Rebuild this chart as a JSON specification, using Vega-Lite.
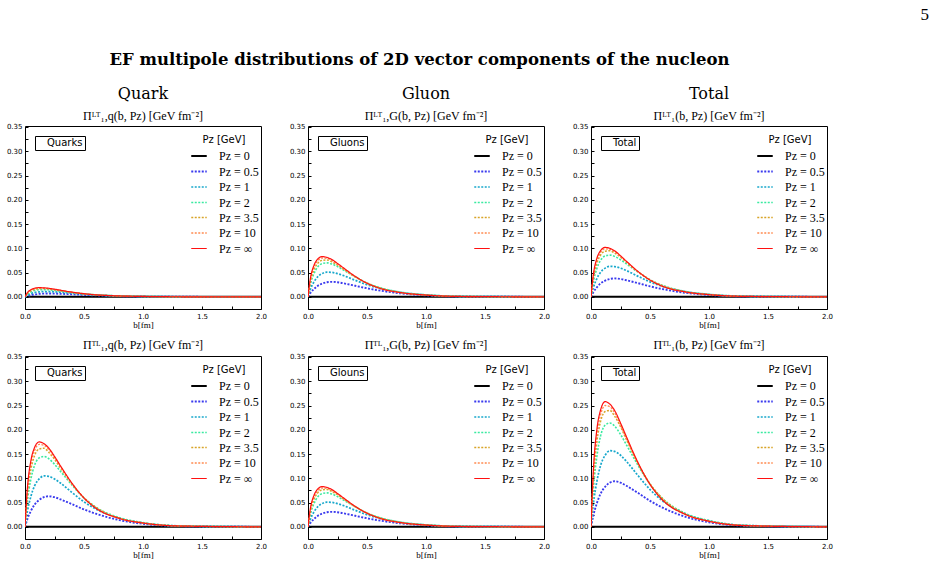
{
"$schema": "https://vega.github.io/schema/vega-lite/v6.json",
"background": "white",
"padding": 5,
"title": {"text": "5", "anchor": "end", "dx": 96, "font": "Liberation Serif", "fontSize": 17, "fontWeight": "normal", "offset": 28, "frame": "bounds"},
"datasets": {
"qLT": [
{"s":"0","b":0,"v":0},{"s":"0","b":2,"v":0},
{"s":"0.5","b":0,"v":0},{"s":"0.5","b":0.02,"v":0.0018},{"s":"0.5","b":0.05,"v":0.0036},{"s":"0.5","b":0.08,"v":0.005},{"s":"0.5","b":0.12,"v":0.0062},{"s":"0.5","b":0.16,"v":0.0068},{"s":"0.5","b":0.2,"v":0.007},{"s":"0.5","b":0.25,"v":0.0068},{"s":"0.5","b":0.3,"v":0.0063},{"s":"0.5","b":0.4,"v":0.0052},{"s":"0.5","b":0.5,"v":0.004},{"s":"0.5","b":0.6,"v":0.003},{"s":"0.5","b":0.8,"v":0.0015},{"s":"0.5","b":1,"v":0.0007},{"s":"0.5","b":1.3,"v":0.0002},{"s":"0.5","b":2,"v":0},
{"s":"1","b":0,"v":0},{"s":"1","b":0.02,"v":0.0033},{"s":"1","b":0.05,"v":0.0066},{"s":"1","b":0.08,"v":0.0088},{"s":"1","b":0.12,"v":0.0103},{"s":"1","b":0.16,"v":0.011},{"s":"1","b":0.2,"v":0.0109},{"s":"1","b":0.25,"v":0.0103},{"s":"1","b":0.3,"v":0.0095},{"s":"1","b":0.4,"v":0.0074},{"s":"1","b":0.5,"v":0.0054},{"s":"1","b":0.6,"v":0.0039},{"s":"1","b":0.8,"v":0.0019},{"s":"1","b":1,"v":0.0009},{"s":"1","b":1.3,"v":0.0002},{"s":"1","b":2,"v":0},
{"s":"2","b":0,"v":0},{"s":"2","b":0.02,"v":0.0054},{"s":"2","b":0.05,"v":0.0102},{"s":"2","b":0.08,"v":0.0131},{"s":"2","b":0.12,"v":0.0147},{"s":"2","b":0.16,"v":0.015},{"s":"2","b":0.2,"v":0.0146},{"s":"2","b":0.25,"v":0.0134},{"s":"2","b":0.3,"v":0.0119},{"s":"2","b":0.4,"v":0.0089},{"s":"2","b":0.5,"v":0.0062},{"s":"2","b":0.6,"v":0.0042},{"s":"2","b":0.8,"v":0.002},{"s":"2","b":1,"v":0.0009},{"s":"2","b":1.3,"v":0.0002},{"s":"2","b":2,"v":0},
{"s":"3.5","b":0,"v":0},{"s":"3.5","b":0.02,"v":0.0068},{"s":"3.5","b":0.05,"v":0.0124},{"s":"3.5","b":0.08,"v":0.0153},{"s":"3.5","b":0.12,"v":0.0168},{"s":"3.5","b":0.16,"v":0.017},{"s":"3.5","b":0.2,"v":0.0162},{"s":"3.5","b":0.25,"v":0.0146},{"s":"3.5","b":0.3,"v":0.0128},{"s":"3.5","b":0.4,"v":0.0092},{"s":"3.5","b":0.5,"v":0.0063},{"s":"3.5","b":0.6,"v":0.0043},{"s":"3.5","b":0.8,"v":0.0019},{"s":"3.5","b":1,"v":0.0009},{"s":"3.5","b":1.3,"v":0.0002},{"s":"3.5","b":2,"v":0},
{"s":"10","b":0,"v":0},{"s":"10","b":0.02,"v":0.0077},{"s":"10","b":0.05,"v":0.0137},{"s":"10","b":0.08,"v":0.0166},{"s":"10","b":0.12,"v":0.018},{"s":"10","b":0.16,"v":0.0178},{"s":"10","b":0.2,"v":0.0169},{"s":"10","b":0.25,"v":0.0151},{"s":"10","b":0.3,"v":0.0131},{"s":"10","b":0.4,"v":0.0094},{"s":"10","b":0.5,"v":0.0063},{"s":"10","b":0.6,"v":0.0041},{"s":"10","b":0.8,"v":0.0018},{"s":"10","b":1,"v":0.0008},{"s":"10","b":1.3,"v":0.0002},{"s":"10","b":2,"v":0},
{"s":"∞","b":0,"v":0},{"s":"∞","b":0.02,"v":0.0086},{"s":"∞","b":0.05,"v":0.0148},{"s":"∞","b":0.08,"v":0.0177},{"s":"∞","b":0.12,"v":0.019},{"s":"∞","b":0.16,"v":0.0186},{"s":"∞","b":0.2,"v":0.0177},{"s":"∞","b":0.25,"v":0.0158},{"s":"∞","b":0.3,"v":0.0137},{"s":"∞","b":0.4,"v":0.0097},{"s":"∞","b":0.5,"v":0.0065},{"s":"∞","b":0.6,"v":0.0042},{"s":"∞","b":0.8,"v":0.0019},{"s":"∞","b":1,"v":0.0009},{"s":"∞","b":1.3,"v":0.0002},{"s":"∞","b":2,"v":0}
],
"gLT": [
{"s":"0","b":0,"v":0},{"s":"0","b":2,"v":0},
{"s":"0.5","b":0,"v":0},{"s":"0.5","b":0.02,"v":0.0078},{"s":"0.5","b":0.05,"v":0.0161},{"s":"0.5","b":0.08,"v":0.0223},{"s":"0.5","b":0.12,"v":0.0273},{"s":"0.5","b":0.16,"v":0.0301},{"s":"0.5","b":0.2,"v":0.031},{"s":"0.5","b":0.25,"v":0.0301},{"s":"0.5","b":0.3,"v":0.0279},{"s":"0.5","b":0.4,"v":0.0229},{"s":"0.5","b":0.5,"v":0.0177},{"s":"0.5","b":0.6,"v":0.0133},{"s":"0.5","b":0.8,"v":0.0068},{"s":"0.5","b":1,"v":0.0031},{"s":"0.5","b":1.3,"v":0.0008},{"s":"0.5","b":2,"v":0},
{"s":"1","b":0,"v":0},{"s":"1","b":0.02,"v":0.0153},{"s":"1","b":0.05,"v":0.0306},{"s":"1","b":0.08,"v":0.0408},{"s":"1","b":0.12,"v":0.0479},{"s":"1","b":0.16,"v":0.051},{"s":"1","b":0.2,"v":0.0505},{"s":"1","b":0.25,"v":0.0479},{"s":"1","b":0.3,"v":0.0439},{"s":"1","b":0.4,"v":0.0342},{"s":"1","b":0.5,"v":0.025},{"s":"1","b":0.6,"v":0.0179},{"s":"1","b":0.8,"v":0.0087},{"s":"1","b":1,"v":0.0041},{"s":"1","b":1.3,"v":0.001},{"s":"1","b":2,"v":0},
{"s":"2","b":0,"v":0},{"s":"2","b":0.02,"v":0.0252},{"s":"2","b":0.05,"v":0.0476},{"s":"2","b":0.08,"v":0.0609},{"s":"2","b":0.12,"v":0.0686},{"s":"2","b":0.16,"v":0.07},{"s":"2","b":0.2,"v":0.0679},{"s":"2","b":0.25,"v":0.0623},{"s":"2","b":0.3,"v":0.0553},{"s":"2","b":0.4,"v":0.0413},{"s":"2","b":0.5,"v":0.0287},{"s":"2","b":0.6,"v":0.0196},{"s":"2","b":0.8,"v":0.0091},{"s":"2","b":1,"v":0.0042},{"s":"2","b":1.3,"v":0.001},{"s":"2","b":2,"v":0},
{"s":"3.5","b":0,"v":0},{"s":"3.5","b":0.02,"v":0.0304},{"s":"3.5","b":0.05,"v":0.0555},{"s":"3.5","b":0.08,"v":0.0684},{"s":"3.5","b":0.12,"v":0.0752},{"s":"3.5","b":0.16,"v":0.076},{"s":"3.5","b":0.2,"v":0.0722},{"s":"3.5","b":0.25,"v":0.0654},{"s":"3.5","b":0.3,"v":0.057},{"s":"3.5","b":0.4,"v":0.041},{"s":"3.5","b":0.5,"v":0.0281},{"s":"3.5","b":0.6,"v":0.019},{"s":"3.5","b":0.8,"v":0.0084},{"s":"3.5","b":1,"v":0.0038},{"s":"3.5","b":1.3,"v":0.0009},{"s":"3.5","b":2,"v":0},
{"s":"10","b":0,"v":0},{"s":"10","b":0.02,"v":0.0344},{"s":"10","b":0.05,"v":0.0608},{"s":"10","b":0.08,"v":0.0736},{"s":"10","b":0.12,"v":0.08},{"s":"10","b":0.16,"v":0.0792},{"s":"10","b":0.2,"v":0.0752},{"s":"10","b":0.25,"v":0.0672},{"s":"10","b":0.3,"v":0.0584},{"s":"10","b":0.4,"v":0.0416},{"s":"10","b":0.5,"v":0.028},{"s":"10","b":0.6,"v":0.0184},{"s":"10","b":0.8,"v":0.008},{"s":"10","b":1,"v":0.0037},{"s":"10","b":1.3,"v":0.0009},{"s":"10","b":2,"v":0},
{"s":"∞","b":0,"v":0},{"s":"∞","b":0.02,"v":0.0374},{"s":"∞","b":0.05,"v":0.0647},{"s":"∞","b":0.08,"v":0.0772},{"s":"∞","b":0.12,"v":0.083},{"s":"∞","b":0.16,"v":0.0813},{"s":"∞","b":0.2,"v":0.0772},{"s":"∞","b":0.25,"v":0.0689},{"s":"∞","b":0.3,"v":0.0598},{"s":"∞","b":0.4,"v":0.0423},{"s":"∞","b":0.5,"v":0.0282},{"s":"∞","b":0.6,"v":0.0183},{"s":"∞","b":0.8,"v":0.0083},{"s":"∞","b":1,"v":0.0037},{"s":"∞","b":1.3,"v":0.0008},{"s":"∞","b":2,"v":0}
],
"tLT": [
{"s":"0","b":0,"v":0},{"s":"0","b":2,"v":0},
{"s":"0.5","b":0,"v":0},{"s":"0.5","b":0.02,"v":0.0095},{"s":"0.5","b":0.05,"v":0.0198},{"s":"0.5","b":0.08,"v":0.0274},{"s":"0.5","b":0.12,"v":0.0334},{"s":"0.5","b":0.16,"v":0.0369},{"s":"0.5","b":0.2,"v":0.038},{"s":"0.5","b":0.25,"v":0.0369},{"s":"0.5","b":0.3,"v":0.0342},{"s":"0.5","b":0.4,"v":0.0281},{"s":"0.5","b":0.5,"v":0.0217},{"s":"0.5","b":0.6,"v":0.0163},{"s":"0.5","b":0.8,"v":0.0084},{"s":"0.5","b":1,"v":0.0038},{"s":"0.5","b":1.3,"v":0.001},{"s":"0.5","b":2,"v":0},
{"s":"1","b":0,"v":0},{"s":"1","b":0.02,"v":0.0189},{"s":"1","b":0.05,"v":0.0378},{"s":"1","b":0.08,"v":0.0504},{"s":"1","b":0.12,"v":0.0592},{"s":"1","b":0.16,"v":0.063},{"s":"1","b":0.2,"v":0.0624},{"s":"1","b":0.25,"v":0.0592},{"s":"1","b":0.3,"v":0.0542},{"s":"1","b":0.4,"v":0.0422},{"s":"1","b":0.5,"v":0.0309},{"s":"1","b":0.6,"v":0.0221},{"s":"1","b":0.8,"v":0.0107},{"s":"1","b":1,"v":0.005},{"s":"1","b":1.3,"v":0.0013},{"s":"1","b":2,"v":0},
{"s":"2","b":0,"v":0},{"s":"2","b":0.02,"v":0.031},{"s":"2","b":0.05,"v":0.0585},{"s":"2","b":0.08,"v":0.0748},{"s":"2","b":0.12,"v":0.0843},{"s":"2","b":0.16,"v":0.086},{"s":"2","b":0.2,"v":0.0834},{"s":"2","b":0.25,"v":0.0765},{"s":"2","b":0.3,"v":0.0679},{"s":"2","b":0.4,"v":0.0507},{"s":"2","b":0.5,"v":0.0353},{"s":"2","b":0.6,"v":0.0241},{"s":"2","b":0.8,"v":0.0112},{"s":"2","b":1,"v":0.0052},{"s":"2","b":1.3,"v":0.0012},{"s":"2","b":2,"v":0},
{"s":"3.5","b":0,"v":0},{"s":"3.5","b":0.02,"v":0.038},{"s":"3.5","b":0.05,"v":0.0694},{"s":"3.5","b":0.08,"v":0.0855},{"s":"3.5","b":0.12,"v":0.0941},{"s":"3.5","b":0.16,"v":0.095},{"s":"3.5","b":0.2,"v":0.0903},{"s":"3.5","b":0.25,"v":0.0817},{"s":"3.5","b":0.3,"v":0.0713},{"s":"3.5","b":0.4,"v":0.0513},{"s":"3.5","b":0.5,"v":0.0352},{"s":"3.5","b":0.6,"v":0.0238},{"s":"3.5","b":0.8,"v":0.0105},{"s":"3.5","b":1,"v":0.0048},{"s":"3.5","b":1.3,"v":0.0011},{"s":"3.5","b":2,"v":0},
{"s":"10","b":0,"v":0},{"s":"10","b":0.02,"v":0.0426},{"s":"10","b":0.05,"v":0.0752},{"s":"10","b":0.08,"v":0.0911},{"s":"10","b":0.12,"v":0.099},{"s":"10","b":0.16,"v":0.098},{"s":"10","b":0.2,"v":0.0931},{"s":"10","b":0.25,"v":0.0832},{"s":"10","b":0.3,"v":0.0723},{"s":"10","b":0.4,"v":0.0515},{"s":"10","b":0.5,"v":0.0347},{"s":"10","b":0.6,"v":0.0228},{"s":"10","b":0.8,"v":0.0099},{"s":"10","b":1,"v":0.0046},{"s":"10","b":1.3,"v":0.0011},{"s":"10","b":2,"v":0},
{"s":"∞","b":0,"v":0},{"s":"∞","b":0.02,"v":0.0459},{"s":"∞","b":0.05,"v":0.0796},{"s":"∞","b":0.08,"v":0.0949},{"s":"∞","b":0.12,"v":0.102},{"s":"∞","b":0.16,"v":0.1},{"s":"∞","b":0.2,"v":0.0949},{"s":"∞","b":0.25,"v":0.0847},{"s":"∞","b":0.3,"v":0.0734},{"s":"∞","b":0.4,"v":0.052},{"s":"∞","b":0.5,"v":0.0347},{"s":"∞","b":0.6,"v":0.0224},{"s":"∞","b":0.8,"v":0.0102},{"s":"∞","b":1,"v":0.0046},{"s":"∞","b":1.3,"v":0.001},{"s":"∞","b":2,"v":0}
],
"qTL": [
{"s":"0","b":0,"v":0},{"s":"0","b":2,"v":0},
{"s":"0.5","b":0,"v":0},{"s":"0.5","b":0.02,"v":0.0158},{"s":"0.5","b":0.05,"v":0.0328},{"s":"0.5","b":0.08,"v":0.0454},{"s":"0.5","b":0.12,"v":0.0554},{"s":"0.5","b":0.16,"v":0.0611},{"s":"0.5","b":0.2,"v":0.063},{"s":"0.5","b":0.25,"v":0.0611},{"s":"0.5","b":0.3,"v":0.0567},{"s":"0.5","b":0.4,"v":0.0466},{"s":"0.5","b":0.5,"v":0.0359},{"s":"0.5","b":0.6,"v":0.0271},{"s":"0.5","b":0.8,"v":0.0139},{"s":"0.5","b":1,"v":0.0063},{"s":"0.5","b":1.3,"v":0.0016},{"s":"0.5","b":2,"v":0},
{"s":"1","b":0,"v":0},{"s":"1","b":0.02,"v":0.0315},{"s":"1","b":0.05,"v":0.063},{"s":"1","b":0.08,"v":0.084},{"s":"1","b":0.12,"v":0.0987},{"s":"1","b":0.16,"v":0.105},{"s":"1","b":0.2,"v":0.104},{"s":"1","b":0.25,"v":0.0987},{"s":"1","b":0.3,"v":0.0903},{"s":"1","b":0.4,"v":0.0704},{"s":"1","b":0.5,"v":0.0515},{"s":"1","b":0.6,"v":0.0368},{"s":"1","b":0.8,"v":0.0179},{"s":"1","b":1,"v":0.0084},{"s":"1","b":1.3,"v":0.0021},{"s":"1","b":2,"v":0},
{"s":"2","b":0,"v":0},{"s":"2","b":0.02,"v":0.0522},{"s":"2","b":0.05,"v":0.0986},{"s":"2","b":0.08,"v":0.1262},{"s":"2","b":0.12,"v":0.1421},{"s":"2","b":0.16,"v":0.145},{"s":"2","b":0.2,"v":0.1407},{"s":"2","b":0.25,"v":0.1291},{"s":"2","b":0.3,"v":0.1146},{"s":"2","b":0.4,"v":0.0856},{"s":"2","b":0.5,"v":0.0595},{"s":"2","b":0.6,"v":0.0406},{"s":"2","b":0.8,"v":0.0189},{"s":"2","b":1,"v":0.0087},{"s":"2","b":1.3,"v":0.002},{"s":"2","b":2,"v":0},
{"s":"3.5","b":0,"v":0},{"s":"3.5","b":0.02,"v":0.0648},{"s":"3.5","b":0.05,"v":0.1183},{"s":"3.5","b":0.08,"v":0.1458},{"s":"3.5","b":0.12,"v":0.1604},{"s":"3.5","b":0.16,"v":0.162},{"s":"3.5","b":0.2,"v":0.1539},{"s":"3.5","b":0.25,"v":0.1393},{"s":"3.5","b":0.3,"v":0.1215},{"s":"3.5","b":0.4,"v":0.0875},{"s":"3.5","b":0.5,"v":0.0599},{"s":"3.5","b":0.6,"v":0.0405},{"s":"3.5","b":0.8,"v":0.0178},{"s":"3.5","b":1,"v":0.0081},{"s":"3.5","b":1.3,"v":0.0019},{"s":"3.5","b":2,"v":0},
{"s":"10","b":0,"v":0},{"s":"10","b":0.02,"v":0.0731},{"s":"10","b":0.05,"v":0.1292},{"s":"10","b":0.08,"v":0.1564},{"s":"10","b":0.12,"v":0.17},{"s":"10","b":0.16,"v":0.1683},{"s":"10","b":0.2,"v":0.1598},{"s":"10","b":0.25,"v":0.1428},{"s":"10","b":0.3,"v":0.1241},{"s":"10","b":0.4,"v":0.0884},{"s":"10","b":0.5,"v":0.0595},{"s":"10","b":0.6,"v":0.0391},{"s":"10","b":0.8,"v":0.017},{"s":"10","b":1,"v":0.0078},{"s":"10","b":1.3,"v":0.0019},{"s":"10","b":2,"v":0},
{"s":"∞","b":0,"v":0},{"s":"∞","b":0.02,"v":0.0788},{"s":"∞","b":0.05,"v":0.1365},{"s":"∞","b":0.08,"v":0.1628},{"s":"∞","b":0.12,"v":0.175},{"s":"∞","b":0.16,"v":0.1715},{"s":"∞","b":0.2,"v":0.1628},{"s":"∞","b":0.25,"v":0.1453},{"s":"∞","b":0.3,"v":0.126},{"s":"∞","b":0.4,"v":0.0893},{"s":"∞","b":0.5,"v":0.0595},{"s":"∞","b":0.6,"v":0.0385},{"s":"∞","b":0.8,"v":0.0175},{"s":"∞","b":1,"v":0.0079},{"s":"∞","b":1.3,"v":0.0018},{"s":"∞","b":2,"v":0}
],
"gTL": [
{"s":"0","b":0,"v":0},{"s":"0","b":2,"v":0},
{"s":"0.5","b":0,"v":0},{"s":"0.5","b":0.02,"v":0.0078},{"s":"0.5","b":0.05,"v":0.0161},{"s":"0.5","b":0.08,"v":0.0223},{"s":"0.5","b":0.12,"v":0.0273},{"s":"0.5","b":0.16,"v":0.0301},{"s":"0.5","b":0.2,"v":0.031},{"s":"0.5","b":0.25,"v":0.0301},{"s":"0.5","b":0.3,"v":0.0279},{"s":"0.5","b":0.4,"v":0.0229},{"s":"0.5","b":0.5,"v":0.0177},{"s":"0.5","b":0.6,"v":0.0133},{"s":"0.5","b":0.8,"v":0.0068},{"s":"0.5","b":1,"v":0.0031},{"s":"0.5","b":1.3,"v":0.0008},{"s":"0.5","b":2,"v":0},
{"s":"1","b":0,"v":0},{"s":"1","b":0.02,"v":0.0153},{"s":"1","b":0.05,"v":0.0306},{"s":"1","b":0.08,"v":0.0408},{"s":"1","b":0.12,"v":0.0479},{"s":"1","b":0.16,"v":0.051},{"s":"1","b":0.2,"v":0.0505},{"s":"1","b":0.25,"v":0.0479},{"s":"1","b":0.3,"v":0.0439},{"s":"1","b":0.4,"v":0.0342},{"s":"1","b":0.5,"v":0.025},{"s":"1","b":0.6,"v":0.0179},{"s":"1","b":0.8,"v":0.0087},{"s":"1","b":1,"v":0.0041},{"s":"1","b":1.3,"v":0.001},{"s":"1","b":2,"v":0},
{"s":"2","b":0,"v":0},{"s":"2","b":0.02,"v":0.0252},{"s":"2","b":0.05,"v":0.0476},{"s":"2","b":0.08,"v":0.0609},{"s":"2","b":0.12,"v":0.0686},{"s":"2","b":0.16,"v":0.07},{"s":"2","b":0.2,"v":0.0679},{"s":"2","b":0.25,"v":0.0623},{"s":"2","b":0.3,"v":0.0553},{"s":"2","b":0.4,"v":0.0413},{"s":"2","b":0.5,"v":0.0287},{"s":"2","b":0.6,"v":0.0196},{"s":"2","b":0.8,"v":0.0091},{"s":"2","b":1,"v":0.0042},{"s":"2","b":1.3,"v":0.001},{"s":"2","b":2,"v":0},
{"s":"3.5","b":0,"v":0},{"s":"3.5","b":0.02,"v":0.0308},{"s":"3.5","b":0.05,"v":0.0562},{"s":"3.5","b":0.08,"v":0.0693},{"s":"3.5","b":0.12,"v":0.0762},{"s":"3.5","b":0.16,"v":0.077},{"s":"3.5","b":0.2,"v":0.0732},{"s":"3.5","b":0.25,"v":0.0662},{"s":"3.5","b":0.3,"v":0.0578},{"s":"3.5","b":0.4,"v":0.0416},{"s":"3.5","b":0.5,"v":0.0285},{"s":"3.5","b":0.6,"v":0.0193},{"s":"3.5","b":0.8,"v":0.0085},{"s":"3.5","b":1,"v":0.0039},{"s":"3.5","b":1.3,"v":0.0009},{"s":"3.5","b":2,"v":0},
{"s":"10","b":0,"v":0},{"s":"10","b":0.02,"v":0.0344},{"s":"10","b":0.05,"v":0.0608},{"s":"10","b":0.08,"v":0.0736},{"s":"10","b":0.12,"v":0.08},{"s":"10","b":0.16,"v":0.0792},{"s":"10","b":0.2,"v":0.0752},{"s":"10","b":0.25,"v":0.0672},{"s":"10","b":0.3,"v":0.0584},{"s":"10","b":0.4,"v":0.0416},{"s":"10","b":0.5,"v":0.028},{"s":"10","b":0.6,"v":0.0184},{"s":"10","b":0.8,"v":0.008},{"s":"10","b":1,"v":0.0037},{"s":"10","b":1.3,"v":0.0009},{"s":"10","b":2,"v":0},
{"s":"∞","b":0,"v":0},{"s":"∞","b":0.02,"v":0.0374},{"s":"∞","b":0.05,"v":0.0647},{"s":"∞","b":0.08,"v":0.0772},{"s":"∞","b":0.12,"v":0.083},{"s":"∞","b":0.16,"v":0.0813},{"s":"∞","b":0.2,"v":0.0772},{"s":"∞","b":0.25,"v":0.0689},{"s":"∞","b":0.3,"v":0.0598},{"s":"∞","b":0.4,"v":0.0423},{"s":"∞","b":0.5,"v":0.0282},{"s":"∞","b":0.6,"v":0.0183},{"s":"∞","b":0.8,"v":0.0083},{"s":"∞","b":1,"v":0.0037},{"s":"∞","b":1.3,"v":0.0008},{"s":"∞","b":2,"v":0}
],
"tTL": [
{"s":"0","b":0,"v":0},{"s":"0","b":2,"v":0},
{"s":"0.5","b":0,"v":0},{"s":"0.5","b":0.02,"v":0.0235},{"s":"0.5","b":0.05,"v":0.0489},{"s":"0.5","b":0.08,"v":0.0677},{"s":"0.5","b":0.12,"v":0.0827},{"s":"0.5","b":0.16,"v":0.0912},{"s":"0.5","b":0.2,"v":0.094},{"s":"0.5","b":0.25,"v":0.0912},{"s":"0.5","b":0.3,"v":0.0846},{"s":"0.5","b":0.4,"v":0.0696},{"s":"0.5","b":0.5,"v":0.0536},{"s":"0.5","b":0.6,"v":0.0404},{"s":"0.5","b":0.8,"v":0.0207},{"s":"0.5","b":1,"v":0.0094},{"s":"0.5","b":1.3,"v":0.0024},{"s":"0.5","b":2,"v":0},
{"s":"1","b":0,"v":0},{"s":"1","b":0.02,"v":0.0471},{"s":"1","b":0.05,"v":0.0942},{"s":"1","b":0.08,"v":0.1256},{"s":"1","b":0.12,"v":0.1476},{"s":"1","b":0.16,"v":0.157},{"s":"1","b":0.2,"v":0.1554},{"s":"1","b":0.25,"v":0.1476},{"s":"1","b":0.3,"v":0.135},{"s":"1","b":0.4,"v":0.1052},{"s":"1","b":0.5,"v":0.0769},{"s":"1","b":0.6,"v":0.055},{"s":"1","b":0.8,"v":0.0267},{"s":"1","b":1,"v":0.0126},{"s":"1","b":1.3,"v":0.0031},{"s":"1","b":2,"v":0},
{"s":"2","b":0,"v":0},{"s":"2","b":0.02,"v":0.077},{"s":"2","b":0.05,"v":0.1455},{"s":"2","b":0.08,"v":0.1862},{"s":"2","b":0.12,"v":0.2097},{"s":"2","b":0.16,"v":0.214},{"s":"2","b":0.2,"v":0.2076},{"s":"2","b":0.25,"v":0.1905},{"s":"2","b":0.3,"v":0.1691},{"s":"2","b":0.4,"v":0.1263},{"s":"2","b":0.5,"v":0.0877},{"s":"2","b":0.6,"v":0.0599},{"s":"2","b":0.8,"v":0.0278},{"s":"2","b":1,"v":0.0128},{"s":"2","b":1.3,"v":0.003},{"s":"2","b":2,"v":0},
{"s":"3.5","b":0,"v":0},{"s":"3.5","b":0.02,"v":0.096},{"s":"3.5","b":0.05,"v":0.1752},{"s":"3.5","b":0.08,"v":0.216},{"s":"3.5","b":0.12,"v":0.2376},{"s":"3.5","b":0.16,"v":0.24},{"s":"3.5","b":0.2,"v":0.228},{"s":"3.5","b":0.25,"v":0.2064},{"s":"3.5","b":0.3,"v":0.18},{"s":"3.5","b":0.4,"v":0.1296},{"s":"3.5","b":0.5,"v":0.0888},{"s":"3.5","b":0.6,"v":0.06},{"s":"3.5","b":0.8,"v":0.0264},{"s":"3.5","b":1,"v":0.012},{"s":"3.5","b":1.3,"v":0.0029},{"s":"3.5","b":2,"v":0},
{"s":"10","b":0,"v":0},{"s":"10","b":0.02,"v":0.1075},{"s":"10","b":0.05,"v":0.19},{"s":"10","b":0.08,"v":0.23},{"s":"10","b":0.12,"v":0.25},{"s":"10","b":0.16,"v":0.2475},{"s":"10","b":0.2,"v":0.235},{"s":"10","b":0.25,"v":0.21},{"s":"10","b":0.3,"v":0.1825},{"s":"10","b":0.4,"v":0.13},{"s":"10","b":0.5,"v":0.0875},{"s":"10","b":0.6,"v":0.0575},{"s":"10","b":0.8,"v":0.025},{"s":"10","b":1,"v":0.0115},{"s":"10","b":1.3,"v":0.0028},{"s":"10","b":2,"v":0},
{"s":"∞","b":0,"v":0},{"s":"∞","b":0.02,"v":0.1161},{"s":"∞","b":0.05,"v":0.2012},{"s":"∞","b":0.08,"v":0.2399},{"s":"∞","b":0.12,"v":0.258},{"s":"∞","b":0.16,"v":0.2528},{"s":"∞","b":0.2,"v":0.2399},{"s":"∞","b":0.25,"v":0.2141},{"s":"∞","b":0.3,"v":0.1858},{"s":"∞","b":0.4,"v":0.1316},{"s":"∞","b":0.5,"v":0.0877},{"s":"∞","b":0.6,"v":0.0568},{"s":"∞","b":0.8,"v":0.0258},{"s":"∞","b":1,"v":0.0116},{"s":"∞","b":1.3,"v":0.0026},{"s":"∞","b":2,"v":0}
]
},
"vconcat": [
{
"title": {"text": "EF multipole distributions of 2D vector components of the nucleon", "font": "DejaVu Serif", "fontSize": 16.5, "fontWeight": "bold", "anchor": "middle", "frame": "bounds", "offset": 17},
"spacing": 8,
"resolve": {"scale": {"color": "independent", "strokeDash": "independent", "strokeWidth": "independent", "shape": "independent"}, "legend": {"color": "independent", "strokeDash": "independent", "strokeWidth": "independent", "shape": "independent"}},
"vconcat": [
{
"spacing": 20,
"resolve": {"scale": {"color": "independent", "strokeDash": "independent", "strokeWidth": "independent", "shape": "independent"}, "legend": {"color": "independent", "strokeDash": "independent", "strokeWidth": "independent", "shape": "independent"}},
"hconcat": [
{"width": 236, "height": 183,
 "title": {"text": "Quark", "subtitle": "Πᴸᵀ₁,q(b, Pz) [GeV fm⁻²]"},
 "layer": [
  {"data": {"name": "qLT"}, "mark": {"type": "line", "interpolate": "monotone", "clip": true},
   "encoding": {
    "x": {"field": "b", "type": "quantitative", "scale": {"domain": [0, 2], "nice": false, "zero": false}, "axis": {"title": "b[fm]", "values": [0, 0.25, 0.5, 0.75, 1, 1.25, 1.5, 1.75, 2], "labelExpr": "round(datum.value*100) % 50 == 0 ? format(datum.value, '.1f') : ''"}},
    "y": {"field": "v", "type": "quantitative", "scale": {"domain": [-0.025, 0.352], "nice": false, "zero": false}, "axis": {"title": null, "values": [0, 0.025, 0.05, 0.075, 0.1, 0.125, 0.15, 0.175, 0.2, 0.225, 0.25, 0.275, 0.3, 0.325, 0.35], "labelExpr": "round(datum.value*1000) % 50 == 0 ? format(datum.value, '.2f') : ''"}},
    "color": {"field": "s", "type": "ordinal", "scale": {"domain": ["0","0.5","1","2","3.5","10","∞"], "range": ["#000000","#3a3aee","#18a8cc","#3aeaa0","#d8a428","#ff8a50","#ff1010"]}, "legend": {"title": "Pz [GeV]", "labelExpr": "'Pz = ' + datum.label"}},
    "strokeDash": {"field": "s", "type": "ordinal", "scale": {"domain": ["0","0.5","1","2","3.5","10","∞"], "range": [[1,0],[2,1.5],[2,1.5],[2,1.5],[2,1.5],[2,1.5],[1,0]]}, "legend": {"title": "Pz [GeV]", "labelExpr": "'Pz = ' + datum.label"}},
    "strokeWidth": {"field": "s", "type": "ordinal", "scale": {"domain": ["0","0.5","1","2","3.5","10","∞"], "range": [2,1.2,1.2,1.2,1.2,1.2,1.4]}, "legend": {"title": "Pz [GeV]", "labelExpr": "'Pz = ' + datum.label"}}
   }},
  {"data": {"values": [{"tag": "Quarks"}]}, "mark": {"type": "point", "opacity": 0, "size": 0},
   "encoding": {"shape": {"field": "tag", "type": "nominal", "legend": {"orient": "top-left", "title": null, "offset": 10, "padding": 2, "columnPadding": 0, "strokeColor": "black", "fillColor": "white", "symbolSize": 0, "symbolStrokeWidth": 0, "symbolOpacity": 0, "labelOffset": 0, "labelFont": "DejaVu Sans", "labelFontSize": 10, "symbolType": "circle"}}}}
 ]},
{"width": 236, "height": 183,
 "title": {"text": "Gluon", "subtitle": "Πᴸᵀ₁,G(b, Pz) [GeV fm⁻²]"},
 "layer": [
  {"data": {"name": "gLT"}, "mark": {"type": "line", "interpolate": "monotone", "clip": true},
   "encoding": {
    "x": {"field": "b", "type": "quantitative", "scale": {"domain": [0, 2], "nice": false, "zero": false}, "axis": {"title": "b[fm]", "values": [0, 0.25, 0.5, 0.75, 1, 1.25, 1.5, 1.75, 2], "labelExpr": "round(datum.value*100) % 50 == 0 ? format(datum.value, '.1f') : ''"}},
    "y": {"field": "v", "type": "quantitative", "scale": {"domain": [-0.025, 0.352], "nice": false, "zero": false}, "axis": {"title": null, "values": [0, 0.025, 0.05, 0.075, 0.1, 0.125, 0.15, 0.175, 0.2, 0.225, 0.25, 0.275, 0.3, 0.325, 0.35], "labelExpr": "round(datum.value*1000) % 50 == 0 ? format(datum.value, '.2f') : ''"}},
    "color": {"field": "s", "type": "ordinal", "scale": {"domain": ["0","0.5","1","2","3.5","10","∞"], "range": ["#000000","#3a3aee","#18a8cc","#3aeaa0","#d8a428","#ff8a50","#ff1010"]}, "legend": {"title": "Pz [GeV]", "labelExpr": "'Pz = ' + datum.label"}},
    "strokeDash": {"field": "s", "type": "ordinal", "scale": {"domain": ["0","0.5","1","2","3.5","10","∞"], "range": [[1,0],[2,1.5],[2,1.5],[2,1.5],[2,1.5],[2,1.5],[1,0]]}, "legend": {"title": "Pz [GeV]", "labelExpr": "'Pz = ' + datum.label"}},
    "strokeWidth": {"field": "s", "type": "ordinal", "scale": {"domain": ["0","0.5","1","2","3.5","10","∞"], "range": [2,1.2,1.2,1.2,1.2,1.2,1.4]}, "legend": {"title": "Pz [GeV]", "labelExpr": "'Pz = ' + datum.label"}}
   }},
  {"data": {"values": [{"tag": "Gluons"}]}, "mark": {"type": "point", "opacity": 0, "size": 0},
   "encoding": {"shape": {"field": "tag", "type": "nominal", "legend": {"orient": "top-left", "title": null, "offset": 10, "padding": 2, "columnPadding": 0, "strokeColor": "black", "fillColor": "white", "symbolSize": 0, "symbolStrokeWidth": 0, "symbolOpacity": 0, "labelOffset": 0, "labelFont": "DejaVu Sans", "labelFontSize": 10, "symbolType": "circle"}}}}
 ]},
{"width": 236, "height": 183,
 "title": {"text": "Total", "subtitle": "Πᴸᵀ₁(b, Pz) [GeV fm⁻²]"},
 "layer": [
  {"data": {"name": "tLT"}, "mark": {"type": "line", "interpolate": "monotone", "clip": true},
   "encoding": {
    "x": {"field": "b", "type": "quantitative", "scale": {"domain": [0, 2], "nice": false, "zero": false}, "axis": {"title": "b[fm]", "values": [0, 0.25, 0.5, 0.75, 1, 1.25, 1.5, 1.75, 2], "labelExpr": "round(datum.value*100) % 50 == 0 ? format(datum.value, '.1f') : ''"}},
    "y": {"field": "v", "type": "quantitative", "scale": {"domain": [-0.025, 0.352], "nice": false, "zero": false}, "axis": {"title": null, "values": [0, 0.025, 0.05, 0.075, 0.1, 0.125, 0.15, 0.175, 0.2, 0.225, 0.25, 0.275, 0.3, 0.325, 0.35], "labelExpr": "round(datum.value*1000) % 50 == 0 ? format(datum.value, '.2f') : ''"}},
    "color": {"field": "s", "type": "ordinal", "scale": {"domain": ["0","0.5","1","2","3.5","10","∞"], "range": ["#000000","#3a3aee","#18a8cc","#3aeaa0","#d8a428","#ff8a50","#ff1010"]}, "legend": {"title": "Pz [GeV]", "labelExpr": "'Pz = ' + datum.label"}},
    "strokeDash": {"field": "s", "type": "ordinal", "scale": {"domain": ["0","0.5","1","2","3.5","10","∞"], "range": [[1,0],[2,1.5],[2,1.5],[2,1.5],[2,1.5],[2,1.5],[1,0]]}, "legend": {"title": "Pz [GeV]", "labelExpr": "'Pz = ' + datum.label"}},
    "strokeWidth": {"field": "s", "type": "ordinal", "scale": {"domain": ["0","0.5","1","2","3.5","10","∞"], "range": [2,1.2,1.2,1.2,1.2,1.2,1.4]}, "legend": {"title": "Pz [GeV]", "labelExpr": "'Pz = ' + datum.label"}}
   }},
  {"data": {"values": [{"tag": "Total"}]}, "mark": {"type": "point", "opacity": 0, "size": 0},
   "encoding": {"shape": {"field": "tag", "type": "nominal", "legend": {"orient": "top-left", "title": null, "offset": 10, "padding": 2, "columnPadding": 0, "strokeColor": "black", "fillColor": "white", "symbolSize": 0, "symbolStrokeWidth": 0, "symbolOpacity": 0, "labelOffset": 0, "labelFont": "DejaVu Sans", "labelFontSize": 10, "symbolType": "circle"}}}}
 ]}
]
},
{
"spacing": 20,
"resolve": {"scale": {"color": "independent", "strokeDash": "independent", "strokeWidth": "independent", "shape": "independent"}, "legend": {"color": "independent", "strokeDash": "independent", "strokeWidth": "independent", "shape": "independent"}},
"hconcat": [
{"width": 236, "height": 183,
 "title": {"text": "Πᵀᴸ₁,q(b, Pz) [GeV fm⁻²]", "font": "Liberation Serif", "fontSize": 12},
 "layer": [
  {"data": {"name": "qTL"}, "mark": {"type": "line", "interpolate": "monotone", "clip": true},
   "encoding": {
    "x": {"field": "b", "type": "quantitative", "scale": {"domain": [0, 2], "nice": false, "zero": false}, "axis": {"title": "b[fm]", "values": [0, 0.25, 0.5, 0.75, 1, 1.25, 1.5, 1.75, 2], "labelExpr": "round(datum.value*100) % 50 == 0 ? format(datum.value, '.1f') : ''"}},
    "y": {"field": "v", "type": "quantitative", "scale": {"domain": [-0.025, 0.352], "nice": false, "zero": false}, "axis": {"title": null, "values": [0, 0.025, 0.05, 0.075, 0.1, 0.125, 0.15, 0.175, 0.2, 0.225, 0.25, 0.275, 0.3, 0.325, 0.35], "labelExpr": "round(datum.value*1000) % 50 == 0 ? format(datum.value, '.2f') : ''"}},
    "color": {"field": "s", "type": "ordinal", "scale": {"domain": ["0","0.5","1","2","3.5","10","∞"], "range": ["#000000","#3a3aee","#18a8cc","#3aeaa0","#d8a428","#ff8a50","#ff1010"]}, "legend": {"title": "Pz [GeV]", "labelExpr": "'Pz = ' + datum.label"}},
    "strokeDash": {"field": "s", "type": "ordinal", "scale": {"domain": ["0","0.5","1","2","3.5","10","∞"], "range": [[1,0],[2,1.5],[2,1.5],[2,1.5],[2,1.5],[2,1.5],[1,0]]}, "legend": {"title": "Pz [GeV]", "labelExpr": "'Pz = ' + datum.label"}},
    "strokeWidth": {"field": "s", "type": "ordinal", "scale": {"domain": ["0","0.5","1","2","3.5","10","∞"], "range": [2,1.2,1.2,1.2,1.2,1.2,1.4]}, "legend": {"title": "Pz [GeV]", "labelExpr": "'Pz = ' + datum.label"}}
   }},
  {"data": {"values": [{"tag": "Quarks"}]}, "mark": {"type": "point", "opacity": 0, "size": 0},
   "encoding": {"shape": {"field": "tag", "type": "nominal", "legend": {"orient": "top-left", "title": null, "offset": 10, "padding": 2, "columnPadding": 0, "strokeColor": "black", "fillColor": "white", "symbolSize": 0, "symbolStrokeWidth": 0, "symbolOpacity": 0, "labelOffset": 0, "labelFont": "DejaVu Sans", "labelFontSize": 10, "symbolType": "circle"}}}}
 ]},
{"width": 236, "height": 183,
 "title": {"text": "Πᵀᴸ₁,G(b, Pz) [GeV fm⁻²]", "font": "Liberation Serif", "fontSize": 12},
 "layer": [
  {"data": {"name": "gTL"}, "mark": {"type": "line", "interpolate": "monotone", "clip": true},
   "encoding": {
    "x": {"field": "b", "type": "quantitative", "scale": {"domain": [0, 2], "nice": false, "zero": false}, "axis": {"title": "b[fm]", "values": [0, 0.25, 0.5, 0.75, 1, 1.25, 1.5, 1.75, 2], "labelExpr": "round(datum.value*100) % 50 == 0 ? format(datum.value, '.1f') : ''"}},
    "y": {"field": "v", "type": "quantitative", "scale": {"domain": [-0.025, 0.352], "nice": false, "zero": false}, "axis": {"title": null, "values": [0, 0.025, 0.05, 0.075, 0.1, 0.125, 0.15, 0.175, 0.2, 0.225, 0.25, 0.275, 0.3, 0.325, 0.35], "labelExpr": "round(datum.value*1000) % 50 == 0 ? format(datum.value, '.2f') : ''"}},
    "color": {"field": "s", "type": "ordinal", "scale": {"domain": ["0","0.5","1","2","3.5","10","∞"], "range": ["#000000","#3a3aee","#18a8cc","#3aeaa0","#d8a428","#ff8a50","#ff1010"]}, "legend": {"title": "Pz [GeV]", "labelExpr": "'Pz = ' + datum.label"}},
    "strokeDash": {"field": "s", "type": "ordinal", "scale": {"domain": ["0","0.5","1","2","3.5","10","∞"], "range": [[1,0],[2,1.5],[2,1.5],[2,1.5],[2,1.5],[2,1.5],[1,0]]}, "legend": {"title": "Pz [GeV]", "labelExpr": "'Pz = ' + datum.label"}},
    "strokeWidth": {"field": "s", "type": "ordinal", "scale": {"domain": ["0","0.5","1","2","3.5","10","∞"], "range": [2,1.2,1.2,1.2,1.2,1.2,1.4]}, "legend": {"title": "Pz [GeV]", "labelExpr": "'Pz = ' + datum.label"}}
   }},
  {"data": {"values": [{"tag": "Glouns"}]}, "mark": {"type": "point", "opacity": 0, "size": 0},
   "encoding": {"shape": {"field": "tag", "type": "nominal", "legend": {"orient": "top-left", "title": null, "offset": 10, "padding": 2, "columnPadding": 0, "strokeColor": "black", "fillColor": "white", "symbolSize": 0, "symbolStrokeWidth": 0, "symbolOpacity": 0, "labelOffset": 0, "labelFont": "DejaVu Sans", "labelFontSize": 10, "symbolType": "circle"}}}}
 ]},
{"width": 236, "height": 183,
 "title": {"text": "Πᵀᴸ₁(b, Pz) [GeV fm⁻²]", "font": "Liberation Serif", "fontSize": 12},
 "layer": [
  {"data": {"name": "tTL"}, "mark": {"type": "line", "interpolate": "monotone", "clip": true},
   "encoding": {
    "x": {"field": "b", "type": "quantitative", "scale": {"domain": [0, 2], "nice": false, "zero": false}, "axis": {"title": "b[fm]", "values": [0, 0.25, 0.5, 0.75, 1, 1.25, 1.5, 1.75, 2], "labelExpr": "round(datum.value*100) % 50 == 0 ? format(datum.value, '.1f') : ''"}},
    "y": {"field": "v", "type": "quantitative", "scale": {"domain": [-0.025, 0.352], "nice": false, "zero": false}, "axis": {"title": null, "values": [0, 0.025, 0.05, 0.075, 0.1, 0.125, 0.15, 0.175, 0.2, 0.225, 0.25, 0.275, 0.3, 0.325, 0.35], "labelExpr": "round(datum.value*1000) % 50 == 0 ? format(datum.value, '.2f') : ''"}},
    "color": {"field": "s", "type": "ordinal", "scale": {"domain": ["0","0.5","1","2","3.5","10","∞"], "range": ["#000000","#3a3aee","#18a8cc","#3aeaa0","#d8a428","#ff8a50","#ff1010"]}, "legend": {"title": "Pz [GeV]", "labelExpr": "'Pz = ' + datum.label"}},
    "strokeDash": {"field": "s", "type": "ordinal", "scale": {"domain": ["0","0.5","1","2","3.5","10","∞"], "range": [[1,0],[2,1.5],[2,1.5],[2,1.5],[2,1.5],[2,1.5],[1,0]]}, "legend": {"title": "Pz [GeV]", "labelExpr": "'Pz = ' + datum.label"}},
    "strokeWidth": {"field": "s", "type": "ordinal", "scale": {"domain": ["0","0.5","1","2","3.5","10","∞"], "range": [2,1.2,1.2,1.2,1.2,1.2,1.4]}, "legend": {"title": "Pz [GeV]", "labelExpr": "'Pz = ' + datum.label"}}
   }},
  {"data": {"values": [{"tag": "Total"}]}, "mark": {"type": "point", "opacity": 0, "size": 0},
   "encoding": {"shape": {"field": "tag", "type": "nominal", "legend": {"orient": "top-left", "title": null, "offset": 10, "padding": 2, "columnPadding": 0, "strokeColor": "black", "fillColor": "white", "symbolSize": 0, "symbolStrokeWidth": 0, "symbolOpacity": 0, "labelOffset": 0, "labelFont": "DejaVu Sans", "labelFontSize": 10, "symbolType": "circle"}}}}
 ]}
]
}
]
}
],
"resolve": {"scale": {"color": "independent", "strokeDash": "independent", "strokeWidth": "independent", "shape": "independent"}, "legend": {"color": "independent", "strokeDash": "independent", "strokeWidth": "independent", "shape": "independent"}},
"config": {
 "view": {"stroke": "black", "strokeWidth": 1},
 "axis": {"grid": false, "domain": false, "labelFlush": false, "tickColor": "black", "labelColor": "black", "labelFont": "DejaVu Sans", "labelFontSize": 7, "tickSize": -3, "labelPadding": 6, "titleFont": "Liberation Serif", "titleFontSize": 9, "titleFontWeight": "normal", "titleColor": "black", "titlePadding": 1},
 "title": {"font": "DejaVu Serif", "fontSize": 16, "fontWeight": "normal", "color": "black", "anchor": "middle", "frame": "group", "offset": 1, "subtitleFont": "Liberation Serif", "subtitleFontSize": 12, "subtitleColor": "black", "subtitlePadding": 9},
 "legend": {"orient": "none", "legendX": 165, "legendY": 9, "padding": 0, "titleFont": "DejaVu Sans", "titleFontSize": 10, "titleFontWeight": "normal", "titleColor": "black", "titlePadding": 2, "titleAnchor": "middle", "labelFont": "Liberation Serif", "labelFontSize": 12, "labelColor": "black", "symbolType": "stroke", "symbolSize": 240, "rowPadding": 0.5, "labelOffset": 11}
}
}
